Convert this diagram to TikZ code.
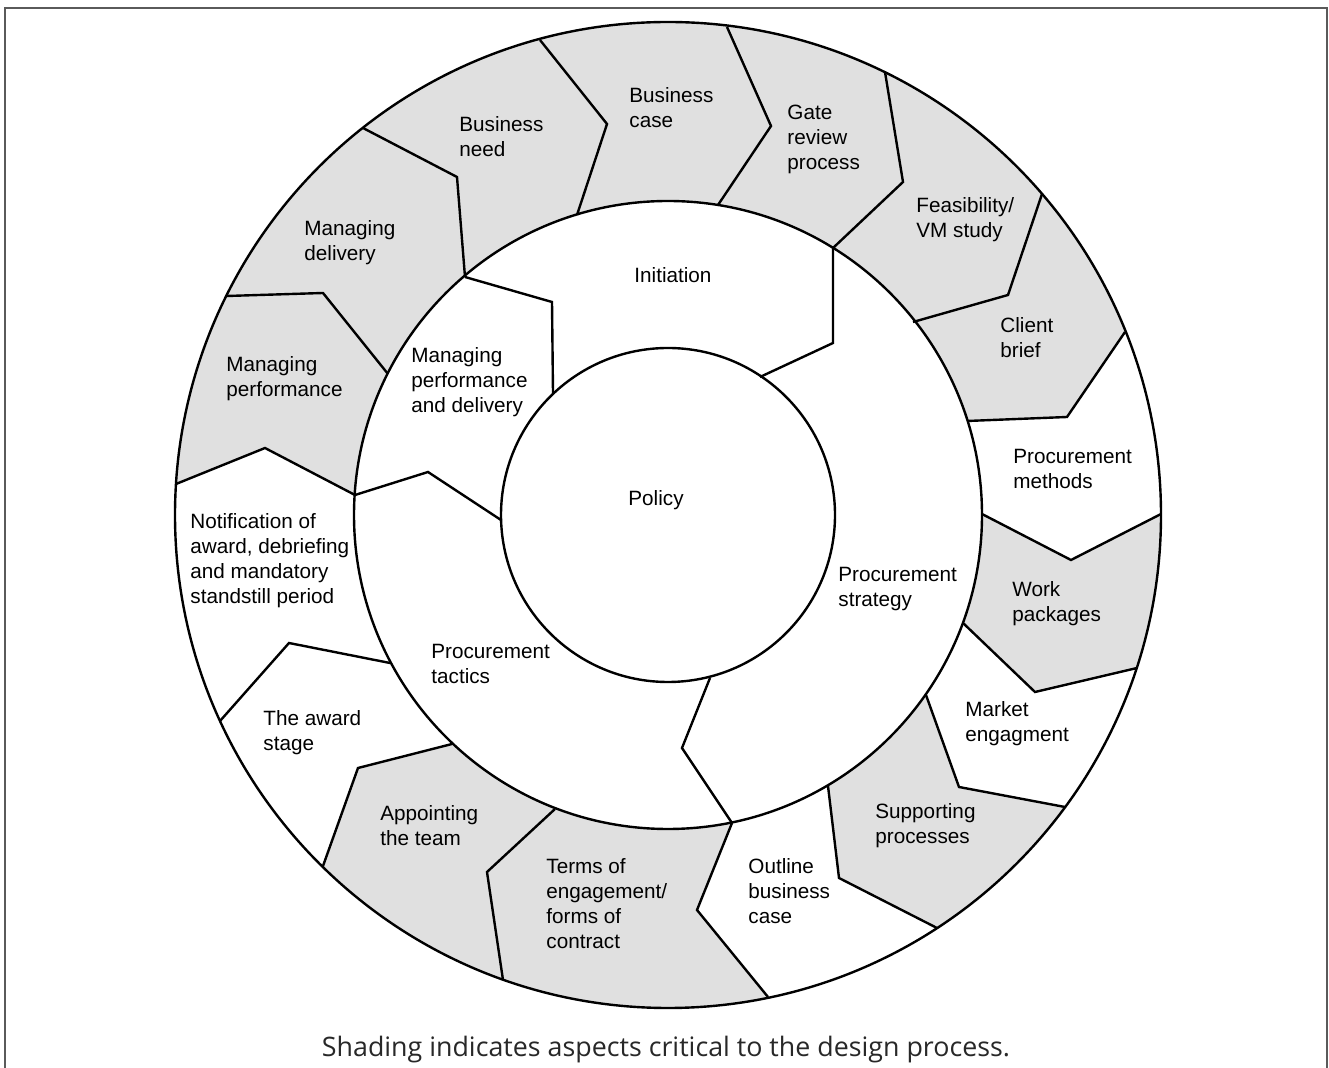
\documentclass[tikz,border=0pt]{standalone}
\usepackage{fontspec}
\setmainfont{Liberation Sans}
\newfontfamily\capfont{Open Sans}
\usetikzlibrary{calc}
\definecolor{shadecol}{RGB}{224,224,224}
\definecolor{framecol}{RGB}{90,90,90}
\definecolor{capcol}{RGB}{40,40,40}
\newcommand\labfont{\fontsize{10.35}{12.5}\selectfont}
\newcommand\capfontsize{\fontsize{13.4}{16}\selectfont}
\begin{document}
\begin{tikzpicture}[x=0.5pt,y=-0.5pt,
  lab/.style={anchor=north west, inner sep=0pt, align=left, font=\labfont, yshift=7.25pt},
  ring/.style={draw=black, line width=1.2pt},
  bnd/.style={draw=black, line width=1.2pt, line join=miter}]
\useasboundingbox (0,0) rectangle (1329,1068);
\fill[white] (0,0) rectangle (1329,1068);
\draw[framecol, line width=0.7pt] (5,1068) -- (5,8) -- (1327,8) -- (1327,1068);

\coordinate (c) at (668,515);
% outer-ring boundaries: inner point, kink, outer point
\coordinate (b1i) at (577,215);  \coordinate (b1k) at (607,124);  \coordinate (b1o) at (540,40);
\coordinate (b2i) at (718,205);  \coordinate (b2k) at (771,126);  \coordinate (b2o) at (727,27);
\coordinate (b3i) at (833,248);  \coordinate (b3k) at (903,182);  \coordinate (b3o) at (885,72);
\coordinate (b4i) at (913,322);  \coordinate (b4k) at (1008,295); \coordinate (b4o) at (1042,194);
\coordinate (b5i) at (967,421);  \coordinate (b5k) at (1067,417); \coordinate (b5o) at (1125,332);
\coordinate (b6i) at (982,514);  \coordinate (b6k) at (1071,560); \coordinate (b6o) at (1161,514);
\coordinate (b7i) at (963,623);  \coordinate (b7k) at (1035,692); \coordinate (b7o) at (1137,668);
\coordinate (b8i) at (926,695);  \coordinate (b8k) at (959,787);  \coordinate (b8o) at (1065,807);
\coordinate (b9i) at (828,786);  \coordinate (b9k) at (839,878);  \coordinate (b9o) at (937,928);
\coordinate (b10i) at (732,823); \coordinate (b10k) at (697,910); \coordinate (b10o) at (768,997);
\coordinate (b11i) at (555,809); \coordinate (b11k) at (487,872); \coordinate (b11o) at (503,980);
\coordinate (b12i) at (452,744); \coordinate (b12k) at (358,768); \coordinate (b12o) at (323,866);
\coordinate (b13i) at (390,663); \coordinate (b13k) at (289,643); \coordinate (b13o) at (220,721);
\coordinate (b14i) at (355,495); \coordinate (b14k) at (265,448); \coordinate (b14o) at (176,484);
\coordinate (b15i) at (388,374); \coordinate (b15k) at (323,293); \coordinate (b15o) at (227,296);
\coordinate (b16i) at (465,277); \coordinate (b16k) at (457,177); \coordinate (b16o) at (363,128);
% middle-ring boundaries
\coordinate (mAk) at (552,302); \coordinate (mAe) at (553,393);
\coordinate (mBk) at (833,343); \coordinate (mBe) at (760,377);
\coordinate (mCs) at (710,678); \coordinate (mCk) at (682,748);
\coordinate (mDk) at (428,472); \coordinate (mDe) at (501,520);

\newcommand\shadeseg[2]{\fill[shadecol] (c) -- (b#1i) -- (b#1k) -- (b#1o) -- ($(c)!1.6!(b#1o)$) -- ($(c)!1.6!(b#2o)$) -- (b#2o) -- (b#2k) -- (b#2i) -- cycle;}
\begin{scope}
  \clip (c) circle[radius=493];
  \shadeseg{16}{1}
  \shadeseg{1}{2}
  \shadeseg{2}{3}
  \shadeseg{3}{4}
  \shadeseg{4}{5}
  \shadeseg{6}{7}
  \shadeseg{8}{9}
  \shadeseg{10}{11}
  \shadeseg{11}{12}
  \shadeseg{14}{15}
  \shadeseg{15}{16}
\end{scope}
\fill[white] (c) circle[radius=314];

\foreach \k in {1,...,16} {\draw[bnd] (b\k i) -- (b\k k) -- (b\k o);}
\draw[bnd] (b16i) -- (mAk) -- (mAe);
\draw[bnd] (b3i) -- (mBk) -- (mBe);
\draw[bnd] (mCs) -- (mCk) -- (b10i);
\draw[bnd] (b14i) -- (mDk) -- (mDe);

\draw[ring] (c) circle[radius=493];
\draw[ring] (c) circle[radius=314];
\draw[ring] (c) circle[radius=167];

% labels (position = left edge, first baseline)
\node[lab] (bneed) at (459,131) {Business\\need};
\node[lab] (bcase) at (629,102) {Business\\case};
\node[lab] (gate) at (787,119) {Gate\\review\\process};
\node[lab] (feas) at (916,212) {Feasibility/\\VM study};
\node[lab] (client) at (1000,332) {Client\\brief};
\node[lab] (pmeth) at (1013,463) {Procurement\\methods};
\node[lab] (work) at (1012,596) {Work\\packages};
\node[lab] (market) at (965,716) {Market\\engagment};
\node[lab] (support) at (875,818) {Supporting\\processes};
\node[lab] (outline) at (748,873) {Outline\\business\\case};
\node[lab] (terms) at (546,873) {Terms of\\engagement/\\forms of\\contract};
\node[lab] (appoint) at (380,820) {Appointing\\the team};
\node[lab] (award) at (263,725) {The award\\stage};
\node[lab] (notif) at (190,528) {Notification of\\award, debriefing\\and mandatory\\standstill period};
\node[lab] (mperf) at (226,371) {Managing\\performance};
\node[lab] (mdel) at (304,235) {Managing\\delivery};
\node[lab] (init) at (634,282) {Initiation};
\node[lab] (mpd) at (411,362) {Managing\\performance\\and delivery};
\node[lab] (pstrat) at (838,581) {Procurement\\strategy};
\node[lab] (ptact) at (431,658) {Procurement\\tactics};
\node[lab] (policy) at (628,505) {Policy};

\node (caption) [font=\capfont\capfontsize, text=capcol, anchor=base, inner sep=0pt] at (666,1057) {Shading indicates aspects critical to the design process.};
\end{tikzpicture}
\end{document}
